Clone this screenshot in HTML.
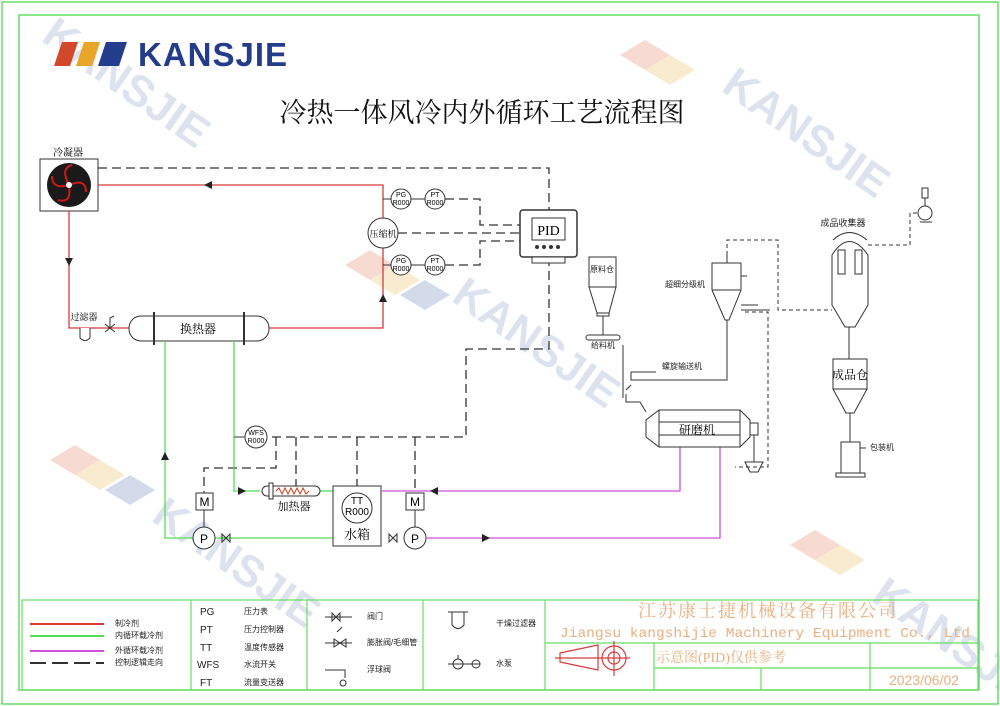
<!DOCTYPE html>
<html><head><meta charset="utf-8"><style>
html,body{margin:0;padding:0;background:#fff}
svg{display:block}
text{font-family:"Liberation Sans","Noto Sans CJK SC",sans-serif}
.s{font-family:"Liberation Serif","Noto Serif CJK SC",serif}
</style></head><body>
<svg width="1000" height="706" viewBox="0 0 1000 706" xmlns="http://www.w3.org/2000/svg">
<g opacity="0.18" font-weight="bold" font-size="44" fill="#3a5aa0">
<text x="40" y="40" transform="rotate(35 40 40)">KANSJIE</text>
<text x="720" y="90" transform="rotate(35 720 90)">KANSJIE</text>
<text x="450" y="300" transform="rotate(35 450 300)">KANSJIE</text>
<text x="150" y="520" transform="rotate(35 150 520)">KANSJIE</text>
<text x="870" y="600" transform="rotate(35 870 600)">KANSJIE</text>
</g>
<g opacity="0.25">
<polygon points="345,265 370,250 395,265 370,280" fill="#e07050"/>
<polygon points="370,280 395,265 420,280 395,295" fill="#e8b040"/>
<polygon points="400,295 425,280 450,295 425,310" fill="#5070b0"/>
<polygon points="50,460 75,445 100,460 75,475" fill="#e07050"/>
<polygon points="75,475 100,460 125,475 100,490" fill="#e8b040"/>
<polygon points="105,490 130,475 155,490 130,505" fill="#5070b0"/>
<polygon points="620,55 645,40 670,55 645,70" fill="#e07050"/>
<polygon points="645,70 670,55 695,70 670,85" fill="#e8b040"/>
<polygon points="790,545 815,530 840,545 815,560" fill="#e07050"/>
<polygon points="815,560 840,545 865,560 840,575" fill="#e8b040"/>
</g>
<rect x="2" y="2" width="996" height="702" fill="none" stroke="#66dd66" stroke-width="1.5"/>
<rect x="19" y="15" width="960" height="675" fill="none" stroke="#66dd66" stroke-width="1.5"/>
<polygon points="62,42 78,42 70,66 54,66" fill="#d2482a"/>
<polygon points="84,42 100,42 92,66 76,66" fill="#e8a628"/>
<polygon points="106,42 127,42 119,66 98,66" fill="#243c8c"/>
<text x="138" y="66" font-size="33" font-weight="bold" fill="#243c8c" letter-spacing="1">KANSJIE</text>
<text x="482" y="122" font-size="27" text-anchor="middle" class="s" fill="#111">冷热一体风冷内外循环工艺流程图</text>

<g fill="none" stroke="#333" stroke-width="1.3" stroke-dasharray="9,5">
<path d="M98,168 H549 V210"/>
<path d="M445,199 H480 V225 H520"/>
<path d="M398,233 H520"/>
<path d="M445,265 H480 V241 H520"/>
<path d="M549,257 V349 H466 V437 H267"/>
<path d="M276,437 V468 H204 V493"/>
<path d="M296,437 V486"/>
<path d="M357,437 V493"/>
<path d="M415,437 V493"/>
</g>
<text x="68" y="156" font-size="10" text-anchor="middle" class="s">冷凝器</text>
<rect x="40" y="159" width="58" height="52" fill="#fff" stroke="#333"/>
<circle cx="69" cy="185" r="22" fill="#1a1a1a"/>
<g stroke="#d01818" stroke-width="2" fill="none">
<path d="M69,185 Q60,168 72,165"/><path d="M69,185 Q86,178 86,192"/><path d="M69,185 Q72,204 58,200"/><path d="M69,185 Q52,190 52,176"/>
</g>
<circle cx="69" cy="185" r="3" fill="#fff"/>
<g fill="none" stroke="#d83a3a" stroke-width="1.3">
<path d="M98,185 H383 V218"/>
<path d="M383,248 V328 H269"/>
<path d="M69,211 V328 H129"/>
</g>
<polygon points="212,181 212,189 204,185" fill="#222"/>
<polygon points="65,258 73,258 69,266" fill="#222"/>
<polygon points="379,302 387,302 383,294" fill="#222"/>
<text x="84" y="320" font-size="9" text-anchor="middle" class="s">过滤器</text>
<path d="M80,328 V338 Q85,343 90,338 V328" fill="#fff" stroke="#333"/>
<path d="M105,324 L115,332 M105,332 L115,324 M110,328 V318 L114,316" stroke="#333" fill="none"/>
<rect x="129" y="316" width="140" height="25" rx="12" fill="#fff" stroke="#333"/>
<line x1="154" y1="312" x2="154" y2="345" stroke="#333" stroke-width="2"/>
<line x1="244" y1="312" x2="244" y2="345" stroke="#333" stroke-width="2"/>
<text x="198" y="333" font-size="12" text-anchor="middle" class="s">换热器</text>
<circle cx="383" cy="233" r="15" fill="#fff" stroke="#333"/>
<text x="383" y="237" font-size="9" text-anchor="middle" class="s">压缩机</text>
<g fill="#fff" stroke="#333"><circle cx="401" cy="199" r="10"/><circle cx="435" cy="199" r="10"/><circle cx="401" cy="265" r="10"/><circle cx="435" cy="265" r="10"/></g>
<path d="M383,199 H391 M411,199 H425 M383,265 H391 M411,265 H425" stroke="#333"/>
<g font-size="7" text-anchor="middle">
<text x="401" y="197">PG</text><text x="401" y="205">R000</text>
<text x="435" y="197">PT</text><text x="435" y="205">R000</text>
<text x="401" y="263">PG</text><text x="401" y="271">R000</text>
<text x="435" y="263">PT</text><text x="435" y="271">R000</text>
</g>
<rect x="520" y="210" width="57" height="47" rx="3" fill="#fff" stroke="#333" stroke-width="1.5"/>
<rect x="532" y="218" width="33" height="22" fill="#fff" stroke="#333"/>
<text x="548.5" y="235" font-size="14" text-anchor="middle" class="s">PID</text>
<g fill="#333"><circle cx="537" cy="247" r="2"/><circle cx="544" cy="247" r="2"/><circle cx="551" cy="247" r="2"/><circle cx="558" cy="247" r="2"/></g>
<rect x="532" y="257" width="33" height="6" fill="#fff" stroke="#333"/>
<g fill="none" stroke="#55dd55" stroke-width="1.3">
<path d="M165,341 V538 H193"/>
<path d="M215,538 H333"/>
<path d="M234,341 V491 H260"/>
<path d="M320,491 H333"/>
</g>
<polygon points="161,460 169,460 165,452" fill="#222"/>
<polygon points="238,487 238,495 246,491" fill="#222"/>
<circle cx="256" cy="437" r="11" fill="#fff" stroke="#333"/>
<text x="256" y="435" font-size="7" text-anchor="middle">WFS</text><text x="256" y="443" font-size="7" text-anchor="middle">R000</text>
<line x1="234" y1="437" x2="245" y2="437" stroke="#333"/>
<rect x="262" y="486" width="58" height="10" rx="5" fill="#fff" stroke="#333"/>
<rect x="269" y="483" width="4" height="16" fill="#fff" stroke="#333"/>
<path d="M276,491 l3,-3 l3,6 l3,-6 l3,6 l3,-6 l3,6 l3,-6 l3,6 l3,-6 l3,6 l3,-3" fill="none" stroke="#d04020"/>
<text x="294" y="510" font-size="11" text-anchor="middle" class="s">加热器</text>
<rect x="333" y="486" width="48" height="60" fill="#fff" stroke="#333"/>
<circle cx="357" cy="508" r="15" fill="#fff" stroke="#333"/>
<text x="357" y="504" font-size="10" text-anchor="middle">TT</text><text x="357" y="515" font-size="10" text-anchor="middle">R000</text>
<text x="357" y="539" font-size="13" text-anchor="middle" class="s">水箱</text>
<g fill="#fff" stroke="#333"><rect x="196" y="493" width="17" height="17"/><rect x="406" y="493" width="18" height="17"/><circle cx="204" cy="538" r="11"/><circle cx="415" cy="538" r="11"/></g>
<path d="M204,510 V527 M415,510 V527" stroke="#333"/>
<g font-size="12" text-anchor="middle"><text x="204.5" y="506">M</text><text x="415" y="506">M</text><text x="204" y="543">P</text><text x="415" y="543">P</text></g>
<path d="M222,534 l8,8 v-8 l-8,8z M389,534 l8,8 v-8 l-8,8z" fill="none" stroke="#333"/>
<g fill="none" stroke="#d050d8" stroke-width="1.3">
<path d="M381,491 H680 V447"/>
<path d="M426,538 H720 V447"/>
</g>
<polygon points="438,487 438,495 430,491" fill="#222"/>
<polygon points="482,534 482,542 490,538" fill="#222"/>

<g fill="none" stroke="#333" stroke-width="1">
<rect x="589" y="257" width="27" height="30"/>
<path d="M589,287 L597,313 H609 L616,287 M597,313 V316 H609 V313"/>
<path d="M603,316 V335"/>
<rect x="586" y="335" width="34" height="5" rx="2.5"/>
<path d="M623,345 V398 M631,372 H656 M631,372 V380 H727 V370"/>
<path d="M631,385 L626,390 M626,394 L626,402 H640 L646,412"/>
<rect x="712" y="263" width="29" height="27"/>
<path d="M712,290 L725,320 H729 L741,290 M727,255 V263 M741,276 H747"/>
<path d="M727,320 V370"/>
<path d="M741,305 H758 M741,310 H770"/>
<polygon points="659,410 740,410 750,420 750,437 740,447 659,447 646,437 646,420"/>
<line x1="659" y1="410" x2="659" y2="447"/><line x1="740" y1="410" x2="740" y2="447"/>
<line x1="659" y1="422" x2="740" y2="422"/><line x1="659" y1="435" x2="740" y2="435"/>
<rect x="750" y="423" width="8" height="12"/>
<path d="M754,435 V462 M745,462 L750,472 H758 L763,462 Z"/>
<path d="M832,255 Q849,228 868,255 V305 L855,327 H845 L832,305 Z"/>
<rect x="838" y="250" width="7" height="24"/><rect x="855" y="250" width="7" height="24"/>
<path d="M833,240 Q849,225 867,240"/>
<path d="M849,327 V359"/>
<rect x="833" y="359" width="34" height="30"/>
<path d="M833,389 L846,413 H854 L867,389 M850,413 V442"/>
<rect x="841" y="442" width="19" height="31"/>
<rect x="836" y="473" width="29" height="4"/>
<path d="M860,448 H866"/>
<circle cx="925" cy="213" r="7"/><path d="M920,222 H932 M925,206 V198"/><rect x="922" y="188" width="6" height="10"/>
</g>
<g fill="none" stroke="#333" stroke-dasharray="4,3">
<path d="M727,255 V240 H778 V310 H832"/>
<path d="M868,245 H910 V213 H918"/>
<path d="M745,312 H768 V467 H735"/>
</g>
<g font-size="8" class="s" fill="#222">
<text x="602" y="272" text-anchor="middle">原料仓</text>
<text x="603" y="348" text-anchor="middle">给料机</text>
<text x="685" y="287" text-anchor="middle">超细分级机</text>
<text x="682" y="369" text-anchor="middle">螺旋输送机</text>
<text x="870" y="450">包装机</text>
<text x="843" y="226" text-anchor="middle" font-size="9">成品收集器</text>
</g>
<text x="697" y="434" font-size="12" text-anchor="middle" class="s">研磨机</text>
<text x="850" y="379" font-size="12" text-anchor="middle" class="s">成品仓</text>

<g fill="none" stroke="#66dd66" stroke-width="1.2">
<rect x="22" y="600" width="956" height="90"/>
<path d="M191,600 V690 M307,600 V690 M423,600 V690 M545,600 V690 M545,643 H978 M654,643 V690 M870,643 V690 M654,668 H978 M761,668 V690"/>
</g>
<g stroke-width="2">
<line x1="30" y1="624" x2="104" y2="624" stroke="#d83a3a"/>
<line x1="30" y1="636" x2="104" y2="636" stroke="#55dd55"/>
<line x1="30" y1="651" x2="104" y2="651" stroke="#d050d8"/>
<line x1="30" y1="663" x2="104" y2="663" stroke="#333" stroke-dasharray="16,6"/>
</g>
<g font-size="8" class="s" fill="#222">
<text x="115" y="626">制冷剂</text><text x="115" y="638">内循环载冷剂</text><text x="115" y="653">外循环载冷剂</text><text x="115" y="665">控制逻辑走向</text>
<text x="244" y="614">压力表</text><text x="244" y="632">压力控制器</text><text x="244" y="650">温度传感器</text><text x="244" y="667">水流开关</text><text x="244" y="685">流量变送器</text>
<text x="367" y="619">阀门</text><text x="367" y="645">膨胀阀/毛细管</text><text x="367" y="672">浮球阀</text>
<text x="496" y="626">干燥过滤器</text><text x="496" y="666">水泵</text>
</g>
<g font-size="10" fill="#222">
<text x="200" y="615">PG</text><text x="200" y="633">PT</text><text x="200" y="651">TT</text><text x="197" y="668">WFS</text><text x="200" y="686">FT</text>
</g>
<g fill="none" stroke="#333">
<path d="M325,617 H352 M332,613 l8,8 v-8 l-8,8z"/>
<path d="M325,643 H352 M334,639 l6,4 l-6,4z M346,639 l-6,4 l6,4z M337,632 l5,-5"/>
<path d="M325,670 H345 V678 M343,680 a3,3 0 1,0 0.1,0"/>
<path d="M448,612 H468 M452,612 V625 Q458,632 464,625 V612"/>
<path d="M448,664 H480 M458,655 V659"/><circle cx="458" cy="664" r="5"/><circle cx="476" cy="664" r="4"/>
</g>
<g fill="none" stroke="#d83a3a" stroke-width="1.2">
<path d="M560,653 L598,645 V670 L560,662 Z M555,658 H630"/>
<circle cx="614" cy="658" r="12"/><circle cx="614" cy="658" r="6"/><path d="M614,641 V676"/>
</g>
<text x="768" y="617" font-size="18" text-anchor="middle" class="s" fill="#e8b080" letter-spacing="2">江苏康士捷机械设备有限公司</text>
<text x="560" y="637" font-size="14" textLength="410" lengthAdjust="spacingAndGlyphs" style="font-family:'Liberation Mono',monospace" fill="#e8b080">Jiangsu kangshijie Machinery Equipment Co., Ltd</text>
<text x="656" y="662" font-size="14" class="s" fill="#e8b080">示意图(PID)仅供参考</text>
<text x="924" y="685" font-size="14" text-anchor="middle" fill="#e8b080">2023/06/02</text>
</svg>
</body></html>
